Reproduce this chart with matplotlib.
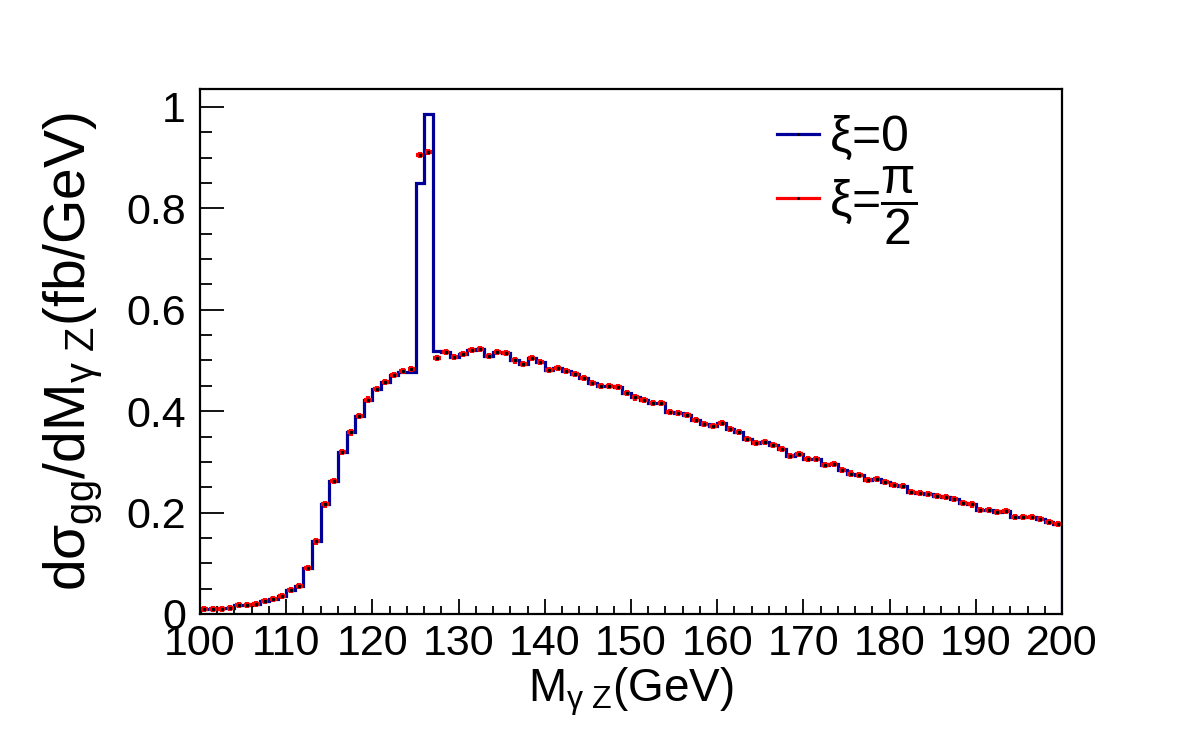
import numpy as np
import matplotlib
matplotlib.use("Agg")
import matplotlib.pyplot as plt
from matplotlib.lines import Line2D
from matplotlib.ticker import MultipleLocator, FuncFormatter

plt.rcParams['font.family'] = ['Liberation Sans', 'DejaVu Sans']
plt.rcParams['mathtext.fontset'] = 'custom'
plt.rcParams['mathtext.rm'] = 'Liberation Sans'
plt.rcParams['mathtext.it'] = 'Liberation Sans'
plt.rcParams['mathtext.bf'] = 'Liberation Sans:bold'

# 1 GeV bins from 100 to 200
bin_edges = np.arange(100, 201, 1)

# xi = 0 (blue histogram)
xs_xi0 = [
    0.010, 0.010, 0.012, 0.012, 0.017, 0.017, 0.020, 0.026, 0.030, 0.036,
    0.047, 0.056, 0.091, 0.143, 0.216, 0.262, 0.320, 0.358, 0.391, 0.423,
    0.444, 0.458, 0.472, 0.478, 0.478, 0.850, 0.986, 0.519, 0.517, 0.506,
    0.513, 0.521, 0.522, 0.509, 0.516, 0.514, 0.500, 0.493, 0.504, 0.497,
    0.482, 0.485, 0.480, 0.473, 0.465, 0.456, 0.450, 0.449, 0.447, 0.435,
    0.427, 0.422, 0.416, 0.416, 0.398, 0.396, 0.392, 0.383, 0.375, 0.371,
    0.376, 0.364, 0.359, 0.345, 0.337, 0.339, 0.333, 0.325, 0.312, 0.316,
    0.306, 0.305, 0.294, 0.295, 0.284, 0.277, 0.274, 0.264, 0.267, 0.261,
    0.254, 0.253, 0.241, 0.238, 0.237, 0.233, 0.231, 0.226, 0.218, 0.216,
    0.205, 0.205, 0.201, 0.203, 0.191, 0.191, 0.191, 0.187, 0.181, 0.178,
]

# xi = pi/2 (red points)
xs_xipi2 = [
    0.010, 0.010, 0.009, 0.012, 0.017, 0.017, 0.020, 0.026, 0.030, 0.036,
    0.047, 0.056, 0.091, 0.143, 0.216, 0.262, 0.320, 0.358, 0.391, 0.423,
    0.444, 0.458, 0.472, 0.480, 0.484, 0.905, 0.912, 0.504, 0.517, 0.506,
    0.513, 0.521, 0.522, 0.509, 0.516, 0.514, 0.500, 0.493, 0.504, 0.497,
    0.482, 0.485, 0.480, 0.473, 0.465, 0.456, 0.450, 0.449, 0.447, 0.435,
    0.427, 0.422, 0.416, 0.416, 0.398, 0.396, 0.392, 0.383, 0.375, 0.371,
    0.376, 0.364, 0.359, 0.345, 0.337, 0.339, 0.333, 0.325, 0.312, 0.316,
    0.306, 0.305, 0.294, 0.295, 0.284, 0.277, 0.274, 0.264, 0.267, 0.261,
    0.254, 0.253, 0.241, 0.238, 0.237, 0.233, 0.231, 0.226, 0.218, 0.216,
    0.205, 0.205, 0.201, 0.203, 0.191, 0.191, 0.191, 0.187, 0.181, 0.178,
]

blue = '#000099'
red = '#ff0000'

fig = plt.figure(figsize=(11.82, 7.40), dpi=100)
ax = fig.add_axes([0.1692, 0.1703, 0.7293, 0.7095])

centers = 0.5 * (bin_edges[:-1] + bin_edges[1:])
ax.stairs(xs_xi0, bin_edges, color=blue, lw=2.3)
ax.errorbar(centers, xs_xipi2, xerr=0.42, yerr=0.006, fmt='none',
            ecolor=red, elinewidth=3.0)
ax.plot(centers, xs_xipi2, 's', color='k', ms=1.3)

ax.set_xlim(100, 200)
ax.set_ylim(0, 1.0355)

ax.xaxis.set_major_locator(MultipleLocator(10))
ax.xaxis.set_minor_locator(MultipleLocator(2))
ax.yaxis.set_major_locator(MultipleLocator(0.2))
ax.yaxis.set_minor_locator(MultipleLocator(0.05))
ax.yaxis.set_major_formatter(FuncFormatter(lambda v, p: '%g' % round(v, 2)))

ax.tick_params(axis='both', which='both', direction='in', top=False, right=False,
               labelsize=31, width=1.3)
ax.tick_params(axis='x', which='major', length=11, pad=7)
ax.tick_params(axis='x', which='minor', length=6)
ax.tick_params(axis='y', which='major', length=17, pad=10)
ax.tick_params(axis='y', which='minor', length=8.5)
for s in ax.spines.values():
    s.set_linewidth(1.6)

ax.set_xlabel(r'M$_{\gamma\ Z}$(GeV)', fontsize=33, labelpad=1)
ax.set_ylabel(r'd$\sigma_{gg}$/dM$_{\gamma\ Z}$(fb/GeV)', fontsize=41, labelpad=16)

handles = [
    Line2D([], [], color=blue, lw=2.3, marker='s', ms=1.0, mfc='k', mec='k'),
    Line2D([], [], color=red, lw=2.3, marker='s', ms=1.0, mfc='k', mec='k'),
]
ax.legend(handles, [r'$\xi$=0', r'$\xi$=$\dfrac{\pi}{2}$'], loc='upper left',
          bbox_to_anchor=(0.669, 0.952), frameon=False, fontsize=36,
          handlelength=0.85, handletextpad=0.2, labelspacing=0.03,
          borderpad=0.0, borderaxespad=0.0)

fig.savefig('out.png', dpi=100)
